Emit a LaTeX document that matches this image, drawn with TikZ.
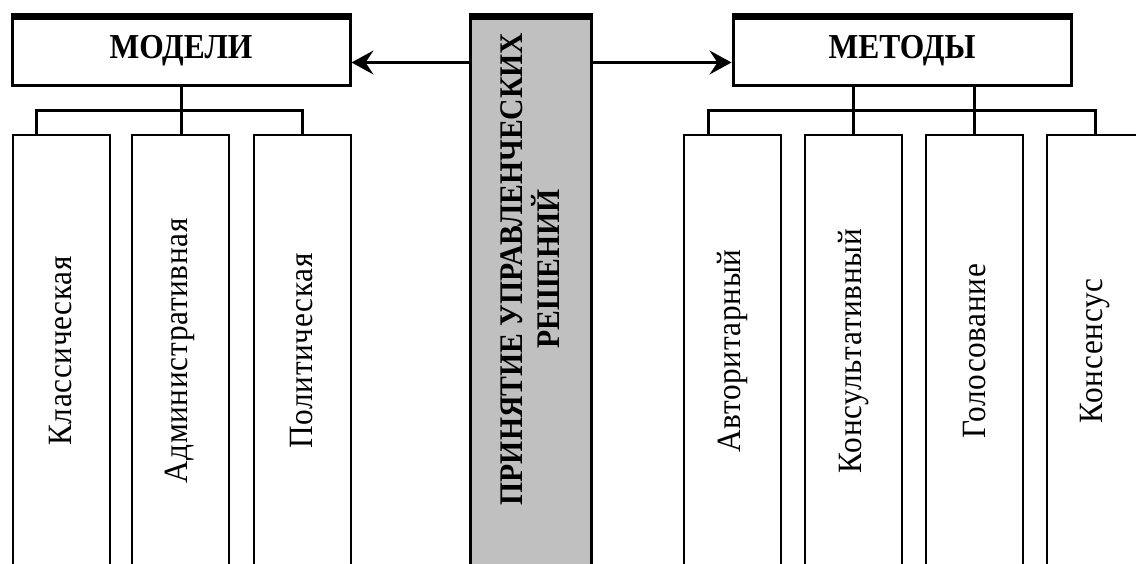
\documentclass[tikz,border=0pt]{standalone}
\usepackage{fontspec}
\setmainfont{Liberation Serif}
\newfontfamily\headfont[FakeStretch=0.9]{Liberation Serif}
\newfontfamily\leaffont[FakeStretch=0.92, LetterSpace=2]{Liberation Serif}
\usetikzlibrary{positioning, arrows.meta}
\definecolor{panelgray}{RGB}{192,192,192}
\tikzstyle{headbox} = [rectangle, minimum width=338pt, minimum height=71pt,
  inner sep=0pt, draw=black, line width=3pt, fill=white,
  font=\headfont\bfseries\fontsize{35}{40}\selectfont]
\tikzstyle{centerbox} = [rectangle, minimum width=121pt, minimum height=560pt,
  inner sep=0pt, draw=black, line width=3pt, fill=panelgray]
\tikzstyle{centertext} = [rotate=90, align=center, inner sep=0pt,
  font=\headfont\bfseries\fontsize{33}{37}\selectfont]
\tikzstyle{leafbox} = [rectangle, minimum width=97pt, minimum height=432pt,
  inner sep=0pt, draw=black, line width=2pt]
\tikzstyle{leaftext} = [rotate=90, inner sep=0pt,
  font=\leaffont\fontsize{34}{40}\selectfont]
\tikzstyle{topbar} = [line width=7pt]
\tikzstyle{conn} = [line width=3pt]
\tikzstyle{arrow} = [line width=2.5pt, -{Stealth[length=22pt, width=24pt, inset=8pt]}]

\begin{document}
\begin{tikzpicture}[x=1pt, y=-1pt]

  \useasboundingbox (0,0) rectangle (1136,564);
  \clip (0,0) rectangle (1136,564);

  %% Header blocks
  \node (modeli) [headbox] at (181,50.5) {МОДЕЛИ};
  \node (metody) [headbox] at (902,50.5) {МЕТОДЫ};
  \node (decision) [centerbox] at (530.5,295) {};
  \node (decisiontext) [centertext] at ([yshift=26pt]decision.center)
    {ПРИНЯТИЕ УПРАВЛЕНЧЕСКИХ\\РЕШЕНИЙ};

  %% Thick top edges
  \foreach \n in {modeli, metody, decision}
    \draw [topbar] ([yshift=-3pt]\n.north west) -- ([yshift=-3pt]\n.north east);

  %% Models
  \node (klass) [leafbox] at (61,351) {};
  \node (admin) [leafbox, right=20pt of klass] {};
  \node (polit) [leafbox, right=23pt of admin] {};
  \node (klasstext) [leaftext] at (klass.center) {Классическая};
  \node (admintext) [leaftext] at (admin.center) {Административная};
  \node (polittext) [leaftext] at (polit.center) {Политическая};

  %% Methods
  \node (avtor) [leafbox] at (732.5,351) {};
  \node (konsult) [leafbox, right=22pt of avtor] {};
  \node (golos) [leafbox, right=22pt of konsult] {};
  \node (konsensus) [leafbox, right=22pt of golos] {};
  \node (avtortext) [leaftext] at (avtor.center) {Авторитарный};
  \node (konsulttext) [leaftext] at (konsult.center) {Консультативный};
  \node (golostext) [leaftext] at (golos.center) {Голосование};
  \node (konsensustext) [leaftext] at (konsensus.center) {Консенсус};

  %% Branches to the models
  \coordinate (lbranch) at ([yshift=-23pt]modeli.south);
  \draw [conn] (modeli.south) -- (lbranch);
  \draw [conn] ([xshift=25pt]klass.north west) |- (lbranch) -| (polit.north);
  \draw [conn] (lbranch) -- (lbranch |- admin.north);

  %% Branches to the methods
  \coordinate (rbranch) at ([yshift=-23pt]metody.south);
  \draw [conn] ([xshift=25pt]avtor.north west) |- (rbranch) -| (konsensus.north);
  \draw [conn] (konsult.north) -- (konsult.north |- metody.south);
  \draw [conn] (golos.north) -- (golos.north |- metody.south);

  %% Arrows out of the centre block
  \coordinate (lhook) at ([yshift=-12pt]modeli.east);
  \coordinate (rhook) at ([yshift=-12pt]metody.west);
  \draw [arrow] (decision.west |- lhook) -- (lhook);
  \draw [arrow] (decision.east |- rhook) -- (rhook);

\end{tikzpicture}
\end{document}
